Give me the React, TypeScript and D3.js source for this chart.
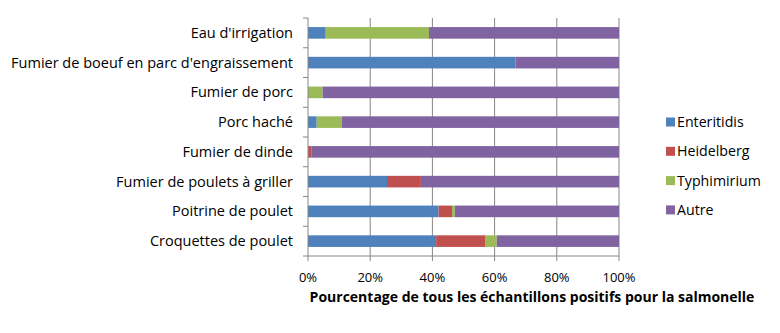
import React from "react";
import * as d3 from "d3";

const categories = [
  "Eau d'irrigation",
  "Fumier de boeuf en parc d'engraissement",
  "Fumier de porc",
  "Porc haché",
  "Fumier de dinde",
  "Fumier de poulets à griller",
  "Poitrine de poulet",
  "Croquettes de poulet",
];
const seriesNames = ["Enteritidis", "Heidelberg", "Typhimirium", "Autre"];
const enteritidis = [5.7, 66.7, 0, 2.8, 0, 25.4, 42.0, 41.2];
const heidelberg = [0, 0, 0, 0, 1.2, 10.9, 4.3, 15.9];
const typhimirium = [33.2, 0, 4.7, 8.1, 0, 0, 0.9, 3.6];
const autre = [61.1, 33.3, 95.3, 89.1, 98.8, 63.7, 52.8, 39.3];
const xTicks = [0, 20, 40, 60, 80, 100];
const colors = ["#4F81BD", "#C0504D", "#9BBB59", "#8064A2"];
const xTitle = "Pourcentage de tous les échantillons positifs pour la salmonelle";

const FONT = "'Open Sans', Lato, sans-serif";

export default function App() {
  const W = 780, H = 333;
  const left = 308, right = 619, top = 18, bottom = 256;
  const x = d3.scaleLinear().domain([0, 100]).range([left, right]);
  const y = d3.scaleBand<string>().domain(categories).range([top, bottom]).paddingInner(0.61).paddingOuter(0.305);
  const yb = d3.scaleBand<string>().domain(categories).range([top, bottom]);
  const rows = categories.map((c, i) => ({
    cat: c,
    Enteritidis: enteritidis[i],
    Heidelberg: heidelberg[i],
    Typhimirium: typhimirium[i],
    Autre: autre[i],
  }));
  const stack = d3.stack<any>().keys(seriesNames)(rows);
  const gridColor = "#868686";
  return (
    <svg width={W} height={H} style={{ position: "absolute", left: 0, top: 0, background: "#fff" }}>
      {xTicks.slice(1).map((t) => (
        <line key={t} x1={x(t)} x2={x(t)} y1={top} y2={bottom} stroke={gridColor} strokeWidth={1} />
      ))}
      {stack.map((s, si) => (
        <g key={s.key} fill={colors[si]}>
          {s.map((d, i) => (
            <rect key={i} x={x(d[0])} width={Math.max(0, x(d[1]) - x(d[0]))} y={y(categories[i])} height={y.bandwidth()} />
          ))}
        </g>
      ))}
      <line x1={left} x2={left} y1={top} y2={bottom} stroke={gridColor} />
      <line x1={left} x2={right} y1={bottom} y2={bottom} stroke={gridColor} />
      {categories.map((c, i) => (
        <line key={"t" + i} x1={left - 5} x2={left} y1={yb(c)!} y2={yb(c)!} stroke={gridColor} />
      ))}
      <line x1={left - 5} x2={left} y1={bottom} y2={bottom} stroke={gridColor} />
      {xTicks.map((t) => (
        <line key={"xt" + t} x1={x(t)} x2={x(t)} y1={bottom} y2={bottom + 5} stroke={gridColor} />
      ))}
      {categories.map((c) => (
        <text key={"l" + c} x={293} y={yb(c)! + yb.bandwidth() / 2} dy="0.35em" textAnchor="end" fontFamily={FONT} fontSize={14.5} fill="#000">
          {c}
        </text>
      ))}
      {xTicks.map((t) => (
        <text key={"xl" + t} x={x(t)} y={282} textAnchor="middle" fontFamily={FONT} fontSize={13} fill="#000">
          {t}%
        </text>
      ))}
      <text x={532} y={302} textAnchor="middle" fontFamily={FONT} fontSize={14} fontWeight="bold" fill="#000">
        {xTitle}
      </text>
      {seriesNames.map((n, i) => (
        <g key={n} transform={`translate(666, ${122 + i * 29.3})`}>
          <rect x={0} y={-4.5} width={9} height={9} fill={colors[i]} />
          <text x={11} y={0} dy="0.35em" fontFamily={FONT} fontSize={14.2} fill="#000">
            {n}
          </text>
        </g>
      ))}
    </svg>
  );
}
